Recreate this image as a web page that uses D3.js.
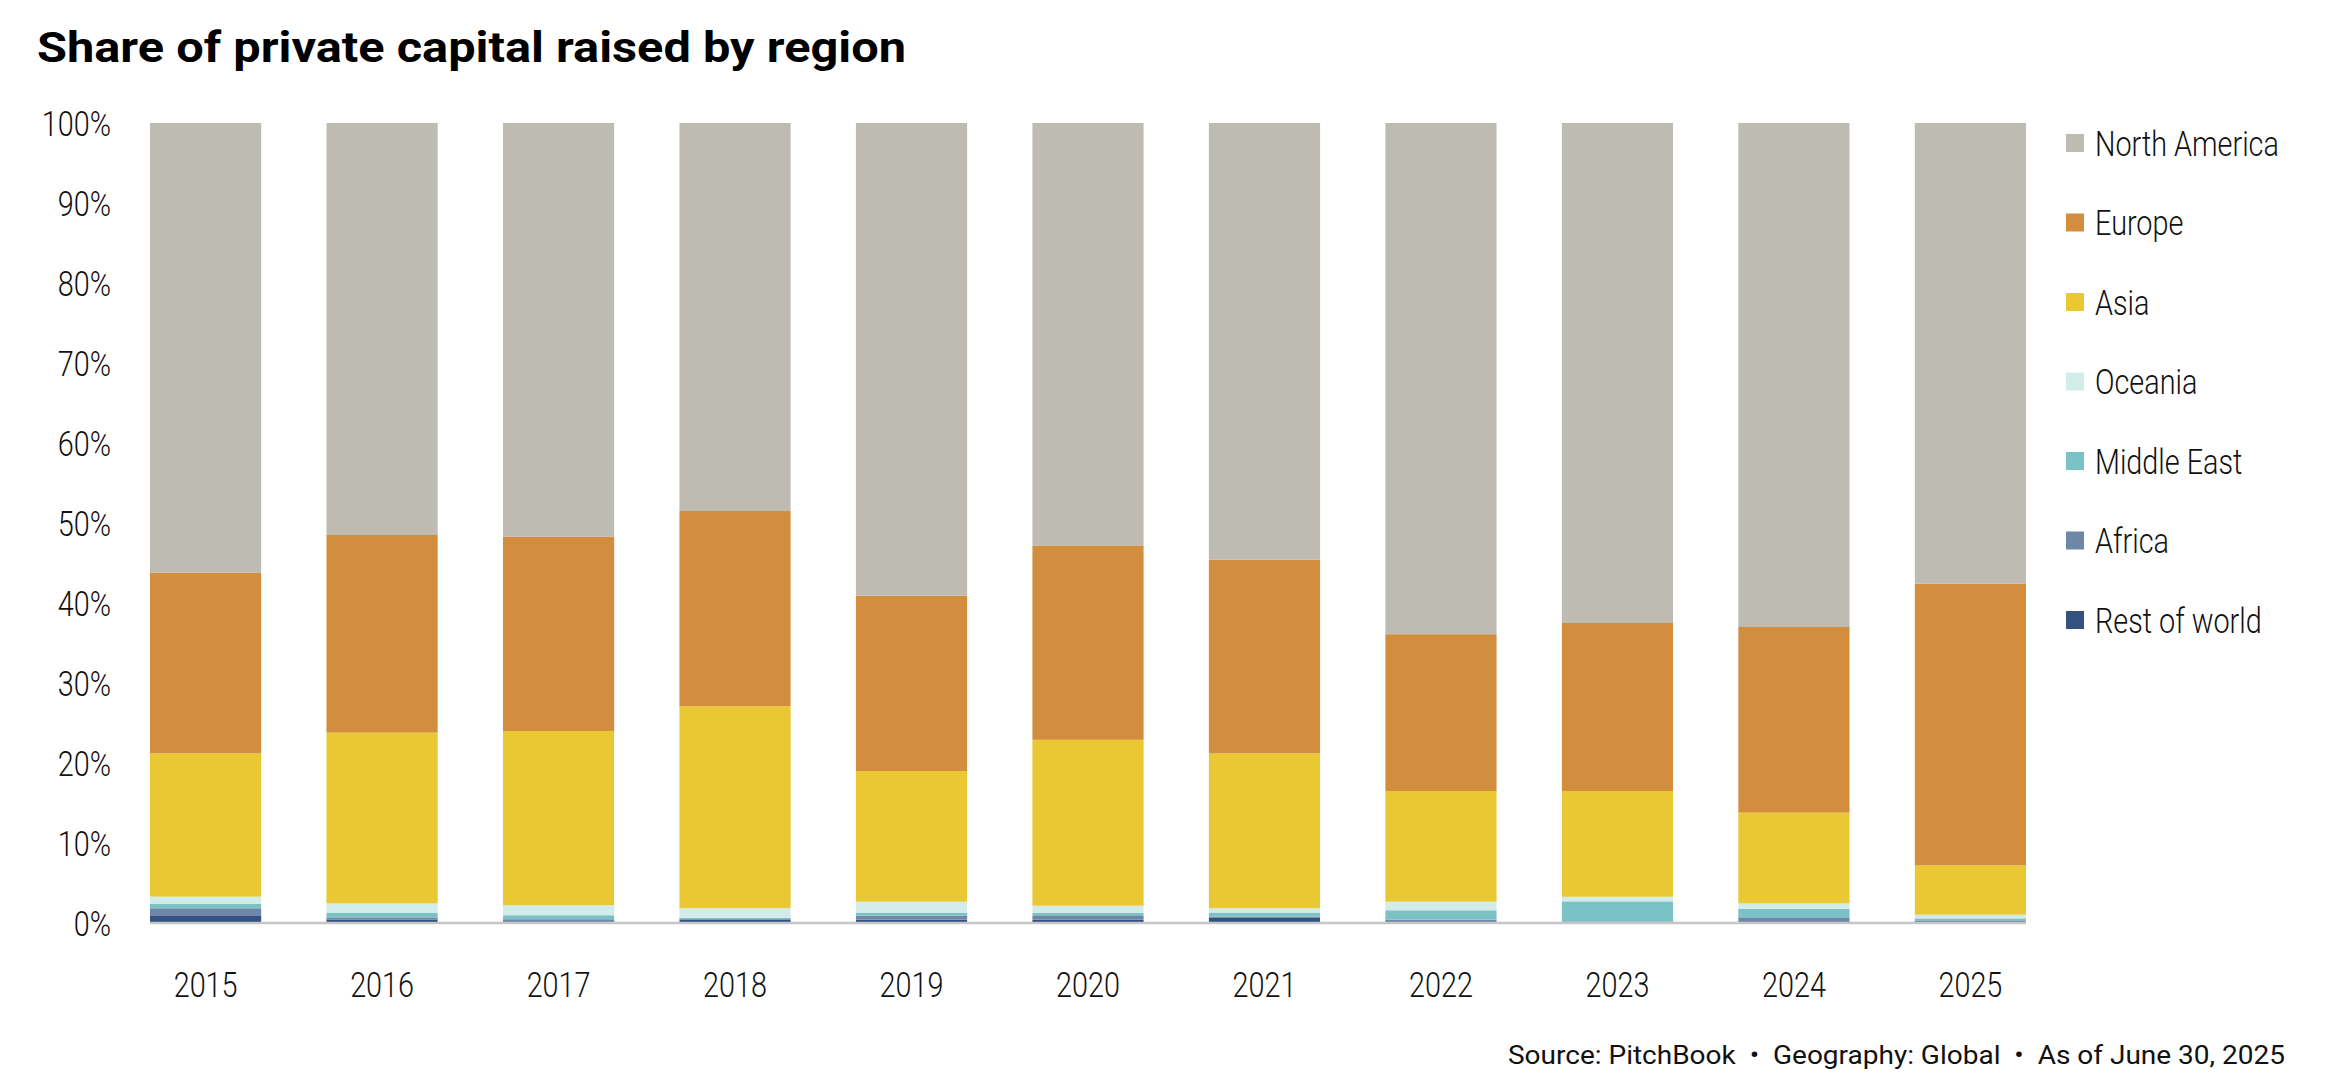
<!DOCTYPE html>
<html>
<head>
<meta charset="utf-8">
<script src="https://cdn.jsdelivr.net/npm/d3@7"></script>
<style>
  html, body { margin: 0; padding: 0; background: #fff; }
  svg { display: block; }
</style>
</head>
<body>
<svg id="chart" width="2330" height="1085"></svg>
<script>
const years = ["2015","2016","2017","2018","2019","2020","2021","2022","2023","2024","2025"];
const seriesNames = ["Rest of world","Africa","Middle East","Oceania","Asia","Europe","North America"];
const restOfWorld  = [0.96, 0.40, 0.05, 0.40, 0.42, 0.42, 0.70, 0.00, 0.00, 0.00, 0.00];
const africa       = [0.88, 0.30, 0.42, 0.10, 0.50, 0.54, 0.10, 0.42, 0.20, 0.71, 0.33];
const middleEast   = [0.54, 0.55, 0.50, 0.15, 0.33, 0.29, 0.50, 1.17, 2.50, 1.08, 0.25];
const oceania      = [0.92, 1.20, 1.25, 1.20, 1.42, 0.92, 0.55, 1.08, 0.58, 0.67, 0.46];
const asia         = [17.90, 21.35, 21.78, 25.25, 16.33, 20.73, 19.35, 13.83, 13.22, 11.34, 6.16];
const europe       = [22.60, 24.70, 24.30, 24.40, 21.90, 24.30, 24.20, 19.60, 21.00, 23.20, 35.20];
const northAmerica = [56.20, 51.50, 51.70, 48.50, 59.10, 52.80, 54.60, 63.90, 62.50, 63.00, 57.60];
const yTicks = [0,10,20,30,40,50,60,70,80,90,100];
const colors = {
  "North America": "#bebcb2",
  "Europe": "#d38d3e",
  "Asia": "#e9c833",
  "Oceania": "#d2ecea",
  "Middle East": "#7bc2c7",
  "Africa": "#6f87a6",
  "Rest of world": "#33527f"
};
const legendOrder = ["North America","Europe","Asia","Oceania","Middle East","Africa","Rest of world"];
const titleText = "Share of private capital raised by region";
const sourceText = "Source: PitchBook  \u2022  Geography: Global  \u2022  As of June 30, 2025";

const seriesArrays = [restOfWorld, africa, middleEast, oceania, asia, europe, northAmerica];
const table = years.map((y, i) => {
  const row = { year: y };
  seriesNames.forEach((s, k) => row[s] = seriesArrays[k][i]);
  return row;
});

const svg = d3.select("#chart");
const lightFont = "Roboto, 'Open Sans', sans-serif";
const sx = 0.8;

const x = d3.scaleBand().domain(years).range([150, 2026]).paddingInner(0.37).paddingOuter(0);
const y = d3.scaleLinear().domain([0, 100]).range([923, 123]);

const stack = d3.stack().keys(seriesNames);
const stacked = stack(table);

// bars
svg.append("g").selectAll("g")
  .data(stacked).join("g")
  .attr("fill", d => colors[d.key])
  .selectAll("rect")
  .data(d => d).join("rect")
  .attr("x", d => x(d.data.year))
  .attr("width", x.bandwidth())
  .attr("y", d => y(d[1]))
  .attr("height", d => Math.max(0, y(d[0]) - y(d[1])));

// baseline
svg.append("line")
  .attr("x1", x.range()[0]).attr("x2", x.range()[1])
  .attr("y1", y(0)).attr("y2", y(0))
  .attr("stroke", "#c6c6c6").attr("stroke-width", 2.5);

// y axis
const yAxis = svg.append("g")
  .attr("transform", "translate(111,0)")
  .call(d3.axisLeft(y).tickValues(yTicks).tickFormat(d => d + "%").tickSize(0).tickPadding(0));
yAxis.select(".domain").remove();
yAxis.selectAll("text")
  .attr("font-family", lightFont).attr("font-weight", 300)
  .attr("font-size", 36).attr("fill", "#111")
  .attr("x", 0).attr("dy", "0.35em")
  .attr("transform", `scale(${sx},1)`);

// x axis
const xAxis = svg.append("g")
  .attr("transform", "translate(0,971)")
  .call(d3.axisBottom(x).tickSize(0).tickPadding(0));
xAxis.select(".domain").remove();
xAxis.selectAll(".tick").each(function() {
  const t = d3.select(this).select("text");
  t.attr("font-family", lightFont).attr("font-weight", 300)
   .attr("font-size", 36).attr("fill", "#111")
   .attr("y", 0).attr("dy", "0.71em")
   .attr("transform", `scale(${sx},1)`);
});

// title
svg.append("text")
  .attr("x", 37).attr("y", 62)
  .attr("font-family", "Roboto, 'Open Sans', sans-serif")
  .attr("font-weight", 700).attr("font-size", 43).attr("fill", "#000")
  .attr("textLength", 869).attr("lengthAdjust", "spacingAndGlyphs")
  .text(titleText);

// legend
const legend = svg.append("g").selectAll("g")
  .data(legendOrder).join("g")
  .attr("transform", (d, i) => `translate(2066,${143 + i * 79.5})`);
legend.append("rect")
  .attr("x", 0).attr("y", -9).attr("width", 18).attr("height", 18)
  .attr("fill", d => colors[d]);
legend.append("text")
  .attr("transform", `translate(29,0) scale(${sx},1)`)
  .attr("dy", "0.35em")
  .attr("font-family", lightFont).attr("font-weight", 300)
  .attr("font-size", 36).attr("fill", "#111")
  .text(d => d);

// source
svg.append("text")
  .attr("x", 2285).attr("y", 1064)
  .attr("text-anchor", "end")
  .style("white-space", "pre")
  .attr("font-family", "Roboto, 'Open Sans', sans-serif")
  .attr("font-weight", 400).attr("font-size", 26).attr("fill", "#111")
  .attr("textLength", 777).attr("lengthAdjust", "spacingAndGlyphs")
  .text(sourceText);
</script>
</body>
</html>
